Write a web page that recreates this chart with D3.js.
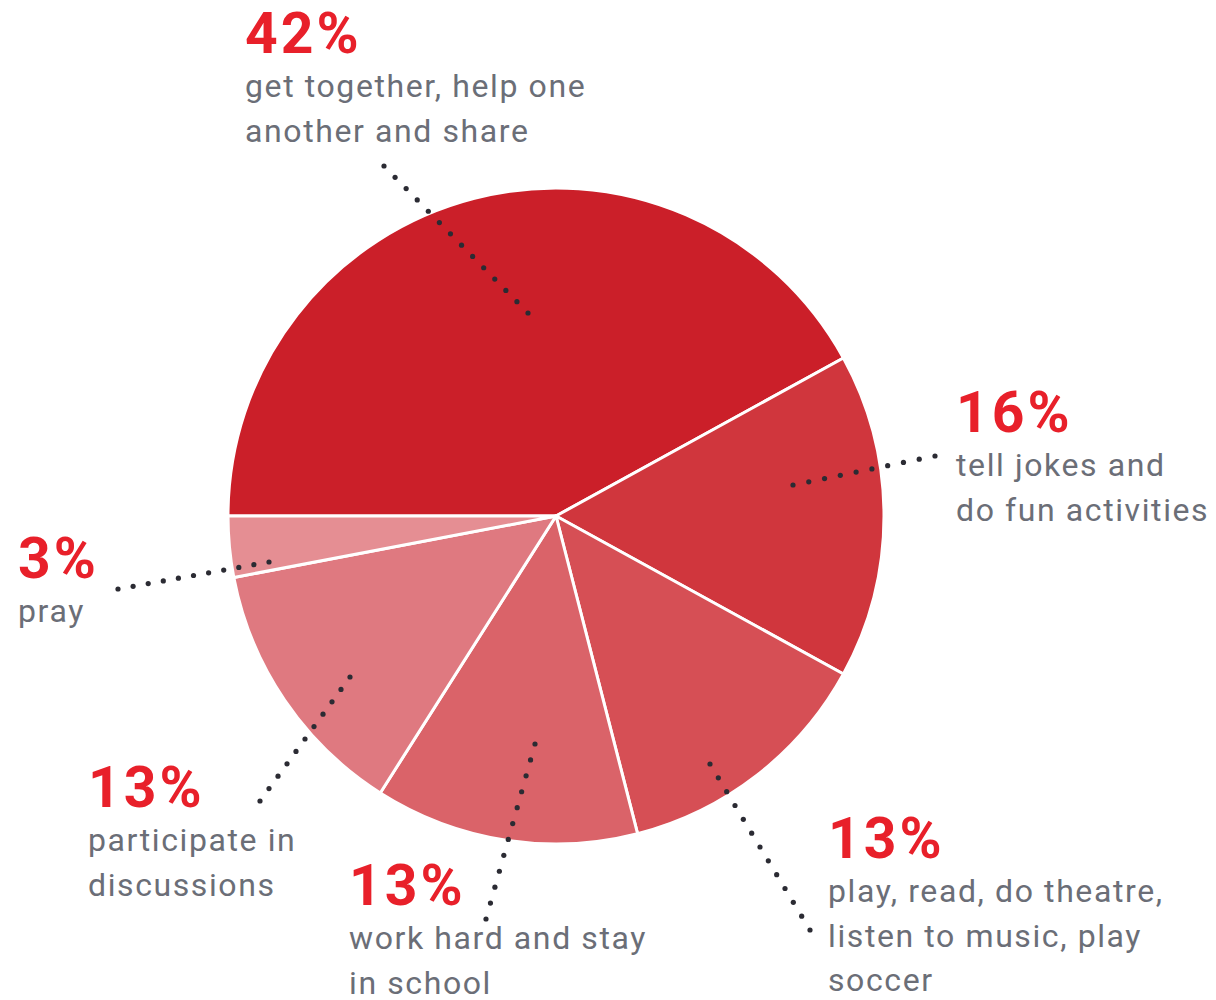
<!DOCTYPE html>
<html>
<head>
<meta charset="utf-8">
<script src="https://cdn.jsdelivr.net/npm/d3@7"></script>
<style>
  html, body { margin: 0; padding: 0; background: #fff; }
  svg { display: block; }
</style>
</head>
<body>
<svg id="chart" width="1216" height="1000"></svg>
<script>
// Share of responses per activity
const categories = [
  "get together, help one another and share",
  "tell jokes and do fun activities",
  "play, read, do theatre, listen to music, play soccer",
  "work hard and stay in school",
  "participate in discussions",
  "pray"
];
const values = [42, 16, 13, 13, 13, 3];
const labelLines = [
  ["get together, help one", "another and share"],
  ["tell jokes and", "do fun activities"],
  ["play, read, do theatre,", "listen to music, play", "soccer"],
  ["work hard and stay", "in school"],
  ["participate in", "discussions"],
  ["pray"]
];

// Slice fills, darkest first
const sliceColors = ["#cb1f29", "#d0363d", "#d64f55", "#da6369", "#df7980", "#e58e93"];

// Label blocks: text anchor (x, baseline of percentage) and dotted leader ends
const labelLayout = [
  { x: 245, y: 53,  lead: [[384, 166], [528, 313]] },
  { x: 956, y: 432, lead: [[935, 456], [793, 485]] },
  { x: 828, y: 858, lead: [[810, 930], [710, 764]] },
  { x: 349, y: 905, lead: [[486, 919], [535, 744]] },
  { x: 88,  y: 807, lead: [[260, 801], [350, 677]] },
  { x: 18,  y: 578, lead: [[118, 589], [269, 562]] }
];

const svg = d3.select("#chart");
const cx = 556, cy = 516, radius = 328;

const data = categories.map((c, i) => ({ category: c, value: values[i], lines: labelLines[i], i }));

// Pie starts at the 9 o'clock position and runs clockwise
const pie = d3.pie()
  .value(d => d.value)
  .sort(null)
  .startAngle(-Math.PI / 2)
  .endAngle(1.5 * Math.PI);

const arc = d3.arc().innerRadius(0).outerRadius(radius);

const g = svg.append("g").attr("transform", `translate(${cx},${cy})`);
g.selectAll("path.slice")
  .data(pie(data))
  .join("path")
  .attr("class", "slice")
  .attr("d", arc)
  .attr("fill", d => sliceColors[d.data.i])
  .attr("stroke", "#ffffff")
  .attr("stroke-width", 3)
  .attr("stroke-linejoin", "round");

// Dotted leader lines
const leaders = svg.append("g");
labelLayout.forEach(l => {
  const [p0, p1] = l.lead;
  const len = Math.hypot(p1[0] - p0[0], p1[1] - p0[1]);
  const n = Math.round(len / 16);
  d3.range(n + 1).forEach(k => {
    const t = k / n;
    leaders.append("circle")
      .attr("cx", p0[0] + (p1[0] - p0[0]) * t)
      .attr("cy", p0[1] + (p1[1] - p0[1]) * t)
      .attr("r", 2.6)
      .attr("fill", "#2b2b33");
  });
});

// Percentages and descriptions
const labels = svg.append("g").attr("font-family", "Roboto, 'Open Sans', sans-serif");
data.forEach((d, i) => {
  const l = labelLayout[i];
  labels.append("text")
    .attr("x", l.x)
    .attr("y", l.y)
    .attr("font-size", 57)
    .attr("font-weight", 700)
    .attr("fill", "#e8202a")
    .attr("letter-spacing", 3)
    .text(d.value + "%");
  d.lines.forEach((line, j) => {
    labels.append("text")
      .attr("x", l.x)
      .attr("y", l.y + 44 + j * 44.5)
      .attr("font-size", 32)
      .attr("fill", "#6b6e77")
      .attr("letter-spacing", 1.6)
      .text(line);
  });
});
</script>
</body>
</html>
